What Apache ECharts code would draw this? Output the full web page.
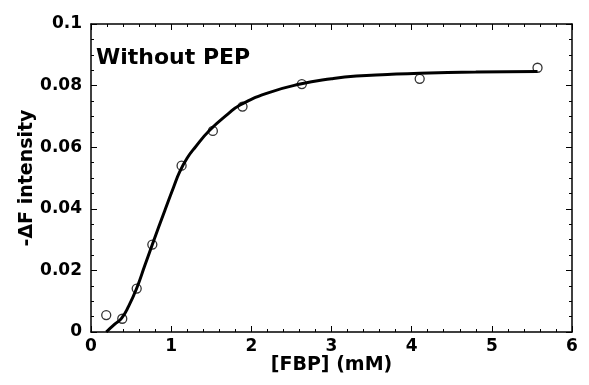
<!DOCTYPE html>
<html>
<head>
<meta charset="utf-8">
<script src="https://cdn.jsdelivr.net/npm/echarts@6/dist/echarts.min.js"></script>
<style>html,body{margin:0;padding:0;background:#fff}#c{width:589px;height:385px}</style>
</head>
<body>
<div id="c"></div>
<script>
// Measured points
var pointX = [0.19, 0.39, 0.57, 0.765, 1.13, 1.52, 1.89, 2.63, 4.10, 5.57];
var pointY = [0.0055, 0.0043, 0.0141, 0.0284, 0.054, 0.0653, 0.0732, 0.0805, 0.0822, 0.0858];
// Fitted curve
var curveX = [0.19, 0.3, 0.38, 0.47, 0.57, 0.67, 0.765, 0.92, 1.03, 1.11, 1.2, 1.3, 1.48, 1.71, 1.86, 2.19, 2.61, 3.0, 3.31, 3.7, 4.1, 4.8, 5.57];
var curveY = [0.0, 0.0026, 0.0044, 0.0084, 0.0142, 0.0215, 0.0284, 0.0394, 0.0470, 0.0522, 0.0565, 0.0600, 0.0655, 0.0708, 0.0737, 0.0775, 0.0805, 0.0822, 0.0831, 0.0836, 0.084, 0.0844, 0.0846];
var xTitle = '[FBP] (mM)';
var yTitle = '-\u0394F intensity';
var panelLabel = 'Without PEP';

function zip(a, b) { return a.map(function (v, i) { return [v, b[i]]; }); }

var font = 'DejaVu Sans, sans-serif';
var chart = echarts.init(document.getElementById('c'));
var axLine = { show: true, onZero: false, lineStyle: { color: '#000', width: 1.5 } };
var tick = { show: true, inside: true, length: 6, lineStyle: { color: '#000', width: 1 } };
var minor = { show: true, length: 3, lineStyle: { color: '#000', width: 1 } };
chart.setOption({
  animation: false,
  backgroundColor: '#fff',
  grid: { left: 91, right: 17, top: 24, bottom: 53 },
  graphic: [{
    type: 'text', left: 96, top: 47,
    style: { text: panelLabel, font: 'bold 22px ' + font, fill: '#000' }
  }],
  xAxis: [{
    type: 'value', min: 0, max: 6, interval: 1, position: 'bottom',
    name: xTitle, nameLocation: 'middle', nameGap: 24, nameMoveOverlap: false,
    nameTextStyle: { fontSize: 19, fontWeight: 'bold', fontFamily: font, color: '#000' },
    axisLine: axLine, axisTick: tick, minorTick: Object.assign({ splitNumber: 5 }, minor),
    axisLabel: { fontSize: 17, fontWeight: 'bold', fontFamily: font, color: '#000', margin: 6 },
    splitLine: { show: false }
  }, {
    type: 'value', min: 0, max: 6, interval: 1, position: 'top',
    axisLine: axLine, axisTick: tick, minorTick: Object.assign({ splitNumber: 5 }, minor),
    axisLabel: { show: false }, splitLine: { show: false }
  }],
  yAxis: [{
    type: 'value', min: 0, max: 0.1, interval: 0.02, position: 'left',
    name: yTitle, nameLocation: 'middle', nameGap: 64, nameRotate: 90, nameMoveOverlap: false,
    nameTextStyle: { fontSize: 19, fontWeight: 'bold', fontFamily: font, color: '#000', verticalAlign: 'middle' },
    axisLine: axLine, axisTick: tick, minorTick: Object.assign({ splitNumber: 4 }, minor),
    axisLabel: { fontSize: 17, fontWeight: 'bold', fontFamily: font, color: '#000', margin: 9 },
    splitLine: { show: false }
  }, {
    type: 'value', min: 0, max: 0.1, interval: 0.02, position: 'right',
    axisLine: axLine, axisTick: tick, minorTick: Object.assign({ splitNumber: 4 }, minor),
    axisLabel: { show: false }, splitLine: { show: false }
  }],
  series: [{
    type: 'line', data: zip(curveX, curveY), smooth: 0.5, symbol: 'none',
    lineStyle: { color: '#000', width: 3 }, z: 2
  }, {
    type: 'scatter', data: zip(pointX, pointY), symbol: 'circle', symbolSize: 9,
    itemStyle: { color: 'rgba(255,255,255,0)', borderColor: '#000', borderWidth: 1.3 }, z: 3
  }]
});
</script>
</body>
</html>
